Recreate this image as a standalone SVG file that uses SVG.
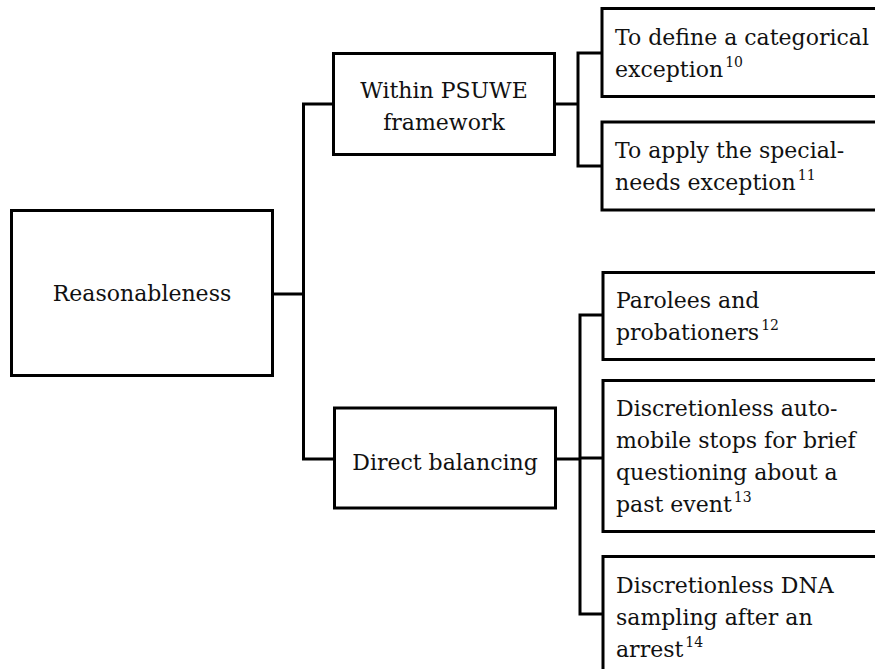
<svg xmlns="http://www.w3.org/2000/svg" width="875" height="669" viewBox="0 0 875 669">
<style>
.box{fill:#fff;stroke:#000;stroke-width:3}
.conn{fill:none;stroke:#000;stroke-width:3}
text{font-family:'DejaVu Serif', 'Liberation Serif', serif;font-size:22px;fill:#111}
.c{text-anchor:middle}
.sup{font-size:14px}
</style>
<rect width="875" height="669" fill="#fff"/>
<g id="connectors">
<path class="conn" d="M273 294H303.5M303.5 104V459M302 104H334M302 459H335"/>
<path class="conn" d="M555 104H578M578 53V166M576.5 53H603M576.5 166H603"/>
<path class="conn" d="M556 459H580M580 315V614M578.5 315H604M578.5 458H604M578.5 614H604"/>
</g>
<g id="reasonableness">
<rect class="box" x="11.5" y="210.5" width="261" height="165"/>
<text class="c" x="142" y="301">Reasonableness</text>
</g>
<g id="within">
<rect class="box" x="333.5" y="53.5" width="221" height="101"/>
<text class="c" x="444" y="98">Within PSUWE</text>
<text class="c" x="444" y="130">framework</text>
</g>
<g id="direct">
<rect class="box" x="334.5" y="408" width="221" height="100"/>
<text class="c" x="445" y="470">Direct balancing</text>
</g>
<g id="define">
<rect class="box" x="602" y="8.5" width="280" height="88"/>
<text x="615" y="45">To define a categorical</text>
<text x="615" y="77">exception<tspan class="sup" dx="2" dy="-10">10</tspan></text>
</g>
<g id="apply">
<rect class="box" x="602" y="122" width="280" height="88"/>
<text x="615" y="158">To apply the special-</text>
<text x="615" y="190">needs exception<tspan class="sup" dx="2" dy="-10">11</tspan></text>
</g>
<g id="parolees">
<rect class="box" x="603" y="272.5" width="280" height="87"/>
<text x="616" y="308">Parolees and</text>
<text x="616" y="340">probationers<tspan class="sup" dx="2" dy="-10">12</tspan></text>
</g>
<g id="auto">
<rect class="box" x="603" y="380.5" width="280" height="151"/>
<text x="616" y="416">Discretionless auto-</text>
<text x="616" y="448">mobile stops for brief</text>
<text x="616" y="480">questioning about a</text>
<text x="616" y="512">past event<tspan class="sup" dx="2" dy="-10">13</tspan></text>
</g>
<g id="dna">
<rect class="box" x="603" y="556.5" width="280" height="120"/>
<text x="616" y="593">Discretionless DNA</text>
<text x="616" y="625">sampling after an</text>
<text x="616" y="657">arrest<tspan class="sup" dx="2" dy="-10">14</tspan></text>
</g>
</svg>
